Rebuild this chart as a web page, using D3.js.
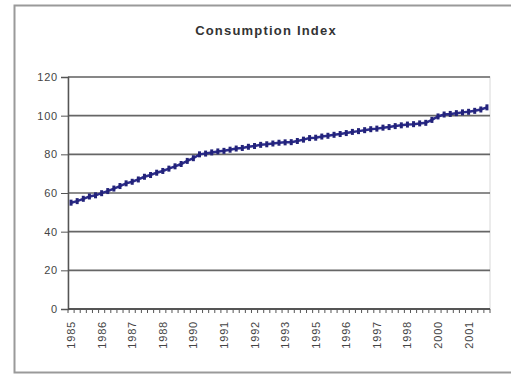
<!DOCTYPE html>
<html>
<head>
<meta charset="utf-8">
<script src="https://cdn.jsdelivr.net/npm/d3@7"></script>
<style>
  body { margin: 0; background: #fff; }
  svg { display: block; font-family: Arial, "Liberation Sans", sans-serif; }
</style>
</head>
<body>
<div class="chart"></div>
<script>
// quarterly index, 1985 Q1 .. 2002 Q1
const values = [
  55.0, 55.8, 57.0, 58.2, 58.8, 59.9, 61.0, 62.3, 63.6, 65.0,
  65.8, 67.0, 68.4, 69.3, 70.5, 71.4, 72.6, 73.8, 75.0, 76.6,
  78.0, 80.0, 80.4, 81.0, 81.5, 81.8, 82.4, 83.0, 83.3, 83.9,
  84.3, 84.9, 85.2, 85.6, 86.0, 86.2, 86.3, 86.9, 87.6, 88.4,
  88.6, 89.2, 89.6, 90.1, 90.5, 91.0, 91.6, 92.0, 92.5, 93.0,
  93.3, 93.8, 94.1, 94.6, 95.0, 95.4, 95.6, 96.0, 96.3, 97.8,
  99.6, 100.6, 100.9, 101.3, 101.7, 102.0, 102.5, 103.2, 104.3
];
// a label every 5th quarter
const tickLabels = ["1985", "1986", "1987", "1988", "1990", "1991", "1992",
                    "1993", "1995", "1996", "1997", "1998", "2000", "2001"];
const yTicks = [0, 20, 40, 60, 80, 100, 120];
const title = "Consumption Index";

const width = 511, height = 376;
const margin = {top: 77, right: 21, bottom: 67, left: 68};
const w = width - margin.left - margin.right;
const h = height - margin.top - margin.bottom;

const svg = d3.select(".chart").append("svg")
  .attr("width", width)
  .attr("height", height);

// outer chart frame
svg.append("rect")
  .attr("x", 14.5).attr("y", 5.5)
  .attr("width", 520).attr("height", 367)
  .attr("fill", "none")
  .style("stroke", "#9a9a9a")
  .style("stroke-width", 2);

svg.append("text")
  .attr("x", 266).attr("y", 35)
  .attr("text-anchor", "middle")
  .style("font-size", "13px")
  .style("font-weight", "bold")
  .style("letter-spacing", "1.2px")
  .style("fill", "#333")
  .text(title);

const g = svg.append("g")
  .attr("transform", `translate(${margin.left},${margin.top})`);

const x = d3.scaleBand()
  .domain(d3.range(values.length))
  .range([0, w]);

const y = d3.scaleLinear()
  .domain([0, 120])
  .range([h, 0]);

// plot area border (light)
g.append("rect")
  .attr("width", w).attr("height", h)
  .attr("fill", "none")
  .style("stroke", "#d8d8d8");

// gridlines
g.selectAll(".grid")
  .data(yTicks)
  .join("line")
  .attr("class", "grid")
  .attr("x1", 0).attr("x2", w)
  .attr("y1", d => y(d)).attr("y2", d => y(d))
  .style("stroke", "#666")
  .style("stroke-width", 1.6);

// y axis
const yAxis = g.append("g")
  .call(d3.axisLeft(y).tickValues(yTicks).tickSize(7).tickPadding(3));
yAxis.select(".domain").style("stroke", "#555").style("stroke-width", 1.5);
yAxis.selectAll(".tick line").style("stroke", "#555");
yAxis.selectAll("text")
  .style("font-size", "11px")
  .style("letter-spacing", "0.8px")
  .style("fill", "#444");

// x axis: a tick at each category boundary
const xAxis = g.append("g")
  .attr("transform", `translate(0,${h})`);
xAxis.append("line")
  .attr("x1", 0).attr("x2", w)
  .style("stroke", "#444")
  .style("stroke-width", 1.5);
xAxis.selectAll(".xtick")
  .data(d3.range(values.length + 1))
  .join("line")
  .attr("class", "xtick")
  .attr("x1", i => i * x.step()).attr("x2", i => i * x.step())
  .attr("y1", 0).attr("y2", 4)
  .style("stroke", "#555");
xAxis.selectAll(".xlabel")
  .data(tickLabels)
  .join("text")
  .attr("class", "xlabel")
  .attr("transform", (d, i) =>
    `translate(${x(i * 5) + x.bandwidth() / 2 + 4},${12}) rotate(-90)`)
  .attr("text-anchor", "end")
  .style("font-size", "11px")
  .style("letter-spacing", "0.8px")
  .style("fill", "#444")
  .text(d => d);

// series
const line = d3.line()
  .x((d, i) => x(i) + x.bandwidth() / 2)
  .y(d => y(d));

g.append("path")
  .datum(values)
  .attr("d", line)
  .attr("fill", "none")
  .style("stroke", "#2b2b8c")
  .style("stroke-width", 2.5);

g.selectAll(".marker")
  .data(values)
  .join("rect")
  .attr("class", "marker")
  .attr("x", (d, i) => x(i) + x.bandwidth() / 2 - 1.5)
  .attr("y", d => y(d) - 3)
  .attr("width", 3)
  .attr("height", 6)
  .attr("fill", "#23237a");
</script>
</body>
</html>
